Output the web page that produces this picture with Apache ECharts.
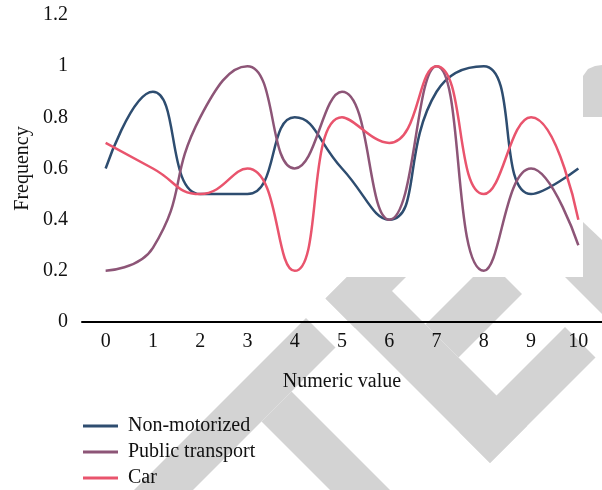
<!DOCTYPE html>
<html>
<head>
<meta charset="utf-8">
<script src="https://cdn.jsdelivr.net/npm/echarts@6/dist/echarts.min.js"></script>
<style>
  html, body { margin: 0; padding: 0; background: #fff; }
  #chart { width: 602px; height: 490px; }
</style>
</head>
<body>
<div id="chart"></div>
<script>
// ---- Data ----
const categories = ['0', '1', '2', '3', '4', '5', '6', '7', '8', '9', '10'];
const nonMotorized = [0.6, 0.9, 0.5, 0.5, 0.8, 0.6, 0.4, 0.9, 1.0, 0.5, 0.6];
const publicTransport = [0.2, 0.29, 0.8, 1.0, 0.6, 0.9, 0.4, 1.0, 0.2, 0.6, 0.3];
const car = [0.7, 0.6, 0.5, 0.6, 0.2, 0.8, 0.7, 1.0, 0.5, 0.8, 0.4];
const seriesNames = ['Non-motorized', 'Public transport', 'Car'];
const seriesColors = ['#2e4d70', '#8d5577', '#e9546d'];
const yMin = 0, yMax = 1.2, yStep = 0.2;

const FONT = '"Liberation Serif", "DejaVu Serif", serif';
const GRAY = '#d3d3d3';

// ---- Watermark decoration (background) ----
function poly(points) {
  return { type: 'polygon', silent: true, z: -10, shape: { points: points }, style: { fill: GRAY } };
}
const watermark = [
  poly([[306, 318], [335.5, 347.5], [163, 520], [104, 520]]),
  poly([[291.5, 391.5], [420, 520], [360, 520], [261.5, 421.5]]),
  poly([[325.5, 298.5], [355, 328], [433, 250], [374, 250]]),
  poly([[325.5, 298.5], [490, 463], [527, 426], [362.5, 261.5]]),
  poly([[459.5, 432.5], [490, 463], [595.5, 357.5], [565, 327]]),
  poly([[425.5, 324.5], [458.5, 357.5], [522, 294], [489, 261]]),
  poly([[583, 76], [588, 69], [595, 66], [602, 65], [602, 117], [583, 117]]),
  poly([[583, 222], [602, 240], [602, 277], [583, 277]]),
  poly([[565, 277], [602, 277], [602, 314]]),
  { type: 'rect', silent: true, z: -9, shape: { x: 0, y: 0, width: 583, height: 277 }, style: { fill: '#fff' } }
];

const chart = echarts.init(document.getElementById('chart'), null, { renderer: 'canvas' });
chart.setOption({
  backgroundColor: '#fff',
  animation: false,
  color: seriesColors,
  graphic: { elements: watermark },
  textStyle: { fontFamily: FONT },
  grid: { left: 82, right: 0, top: 15, bottom: 168, containLabel: false },
  legend: {
    orient: 'vertical',
    left: 83,
    top: 416,
    padding: 0,
    icon: 'rect',
    itemWidth: 35,
    itemHeight: 3,
    itemGap: 6,
    data: seriesNames,
    textStyle: { fontFamily: FONT, fontSize: 20, color: '#111', lineHeight: 19, padding: [0, 0, 0, 5] }
  },
  xAxis: {
    type: 'category',
    data: categories,
    boundaryGap: true,
    name: 'Numeric value',
    nameLocation: 'middle',
    nameGap: 50,
    nameMoveOverlap: false,
    nameTextStyle: { fontFamily: FONT, fontSize: 20, color: '#111' },
    axisLine: { show: true, lineStyle: { color: '#000', width: 2 } },
    axisTick: { show: false },
    axisLabel: { fontFamily: FONT, fontSize: 20, color: '#111', margin: 10 },
    splitLine: { show: false }
  },
  yAxis: {
    type: 'value',
    min: yMin,
    max: yMax,
    interval: yStep,
    name: 'Frequency',
    nameLocation: 'middle',
    nameGap: 49,
    nameMoveOverlap: false,
    nameTextStyle: { fontFamily: FONT, fontSize: 20, color: '#111' },
    axisLine: { show: false },
    axisTick: { show: false },
    splitLine: { show: false },
    axisLabel: { fontFamily: FONT, fontSize: 20, color: '#111', margin: 14 }
  },
  series: [
    { name: seriesNames[0], type: 'line', data: nonMotorized, smooth: 0.5, symbol: 'none', lineStyle: { width: 2.5 } },
    { name: seriesNames[1], type: 'line', data: publicTransport, smooth: 0.5, symbol: 'none', lineStyle: { width: 2.5 } },
    { name: seriesNames[2], type: 'line', data: car, smooth: 0.5, symbol: 'none', lineStyle: { width: 2.5 } }
  ]
});
</script>
</body>
</html>
